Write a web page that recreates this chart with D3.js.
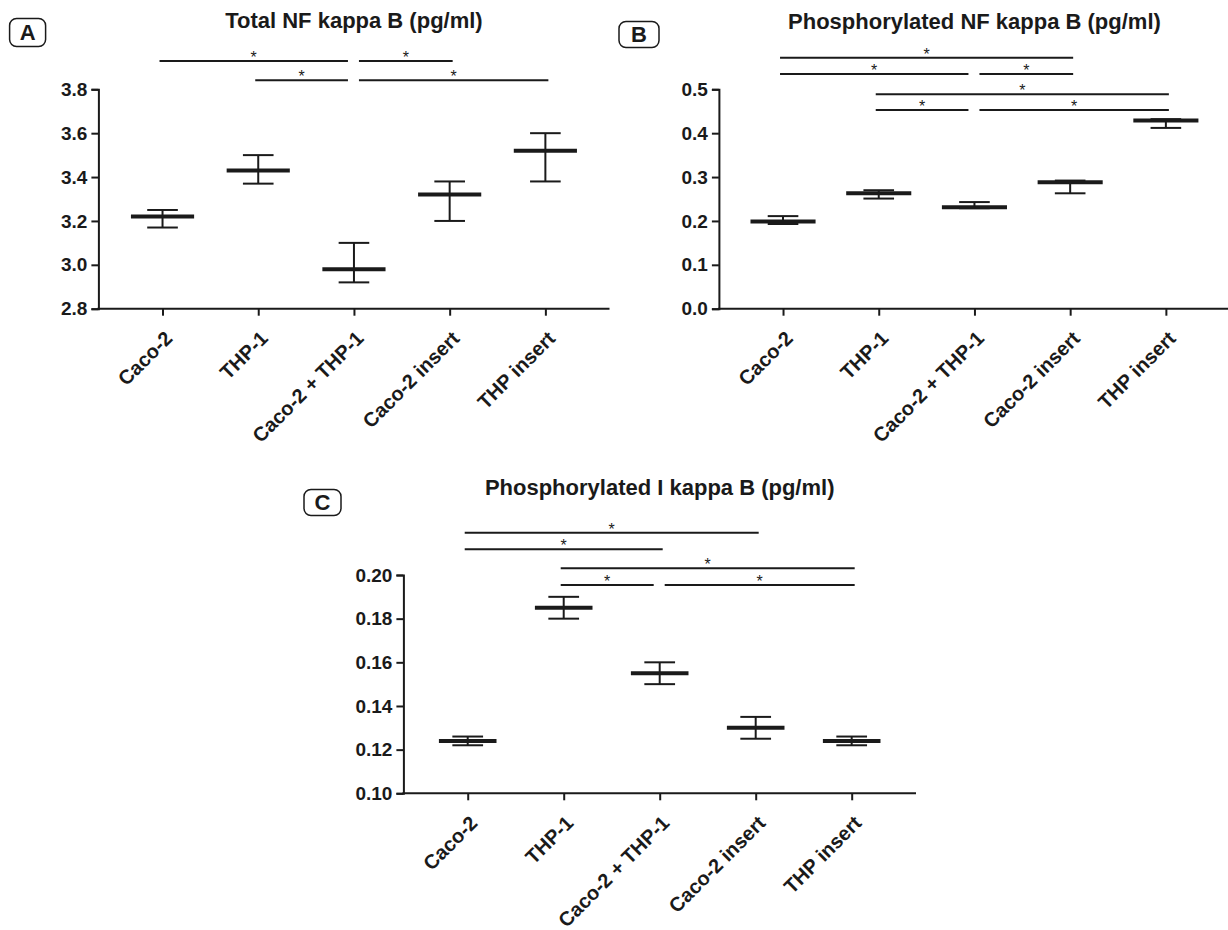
<!DOCTYPE html>
<html>
<head>
<meta charset="utf-8">
<script src="https://cdn.jsdelivr.net/npm/d3@7/dist/d3.min.js"></script>
<style>
  html, body { margin: 0; padding: 0; background: #fff; }
  svg { display: block; }
  text { font-family: "Liberation Sans", Arial, Helvetica, sans-serif; fill: #1a1a1a; }
</style>
</head>
<body>
<svg id="chart" width="1228" height="930"></svg>
<script>
// ---------------- DATA ----------------
const categories = ["Caco-2", "THP-1", "Caco-2 + THP-1", "Caco-2 insert", "THP insert"];

// Panel A: Total NF kappa B (pg/ml)
const totalNFMean = [3.22, 3.43, 2.98, 3.32, 3.52];
const totalNFLow  = [3.17, 3.37, 2.92, 3.20, 3.38];
const totalNFHigh = [3.25, 3.50, 3.10, 3.38, 3.60];
const totalNFTicks = [2.8, 3.0, 3.2, 3.4, 3.6, 3.8];
const totalNFTickLabels = ["2.8", "3.0", "3.2", "3.4", "3.6", "3.8"];
// significance bars: [from category index, to category index, level (data units)]
const totalNFSig = [[0, 2, 3.929], [2, 3, 3.929], [1, 2, 3.841], [2, 4, 3.841]];

// Panel B: Phosphorylated NF kappa B (pg/ml)
const phosNFMean = [0.199, 0.263, 0.231, 0.288, 0.429];
const phosNFLow  = [0.193, 0.251, 0.229, 0.263, 0.412];
const phosNFHigh = [0.211, 0.270, 0.243, 0.292, 0.432];
const phosNFTicks = [0.0, 0.1, 0.2, 0.3, 0.4, 0.5];
const phosNFTickLabels = ["0.0", "0.1", "0.2", "0.3", "0.4", "0.5"];
const phosNFSig = [[0, 3, 0.572], [0, 2, 0.535], [2, 3, 0.535], [1, 4, 0.489], [1, 2, 0.453], [2, 4, 0.453]];

// Panel C: Phosphorylated I kappa B (pg/ml)
const phosIkBMean = [0.124, 0.185, 0.155, 0.130, 0.124];
const phosIkBLow  = [0.122, 0.180, 0.150, 0.125, 0.122];
const phosIkBHigh = [0.126, 0.190, 0.160, 0.135, 0.126];
const phosIkBTicks = [0.10, 0.12, 0.14, 0.16, 0.18, 0.20];
const phosIkBTickLabels = ["0.10", "0.12", "0.14", "0.16", "0.18", "0.20"];
const phosIkBSig = [[0, 3, 0.2194], [0, 2, 0.2118], [1, 4, 0.2031], [1, 2, 0.1954], [2, 4, 0.1954]];

const panelTitles = ["Total NF kappa B (pg/ml)", "Phosphorylated NF kappa B (pg/ml)", "Phosphorylated I kappa B (pg/ml)"];
const panelLetters = ["A", "B", "C"];

// ---------------- LAYOUT ----------------
const INK = "#1a1a1a";
const layouts = [
  { x0: 98.4, xEnd: 609.5, yTop: 89.3, yBot: 308.7, titleY: 28, box: { x: 9.6, y: 18.5, w: 36, h: 28 }, meanHalf: 0.33 },
  { x0: 718.9, xEnd: 1230, yTop: 89.3, yBot: 308.7, titleY: 29, box: { x: 619, y: 21.5, w: 40, h: 26 }, meanHalf: 0.34 },
  { x0: 403.4, xEnd: 916, yTop: 575, yBot: 793.3, titleY: 495, box: { x: 304, y: 489.5, w: 37, h: 26 }, meanHalf: 0.30 }
];

const panels = [
  { mean: totalNFMean, low: totalNFLow, high: totalNFHigh, ticks: totalNFTicks, tickLabels: totalNFTickLabels, sig: totalNFSig },
  { mean: phosNFMean, low: phosNFLow, high: phosNFHigh, ticks: phosNFTicks, tickLabels: phosNFTickLabels, sig: phosNFSig },
  { mean: phosIkBMean, low: phosIkBLow, high: phosIkBHigh, ticks: phosIkBTicks, tickLabels: phosIkBTickLabels, sig: phosIkBSig }
];

const svg = d3.select("#chart");

panels.forEach((p, pi) => {
  const L = layouts[pi];
  const g = svg.append("g");

  const x = d3.scalePoint().domain(categories).range([L.x0, L.xEnd]).padding(0.67);
  const y = d3.scaleLinear()
    .domain([p.ticks[0], p.ticks[p.ticks.length - 1]])
    .range([L.yBot, L.yTop]);
  const step = x.step();

  // Y axis
  const yAxis = d3.axisLeft(y)
    .tickValues(p.ticks)
    .tickFormat((d, i) => p.tickLabels[i])
    .tickSize(7).tickSizeOuter(7).tickPadding(4);
  const gy = g.append("g").attr("transform", `translate(${L.x0},0)`).call(yAxis);
  gy.selectAll("path, line").attr("stroke", INK).attr("stroke-width", 2);
  gy.selectAll("text").attr("font-size", 19).attr("font-weight", "bold").attr("fill", INK)
    .attr("font-family", "'Liberation Sans', Arial, sans-serif");

  // X axis
  const xAxis = d3.axisBottom(x).tickSize(7).tickSizeOuter(0).tickFormat("");
  const gx = g.append("g").attr("transform", `translate(0,${L.yBot})`).call(xAxis);
  gx.select("path.domain").attr("d", `M${L.x0 - 1},0H${L.xEnd}`);
  gx.selectAll("path, line").attr("stroke", INK).attr("stroke-width", 2);

  // X labels (rotated)
  g.selectAll("text.xlab").data(categories).join("text")
    .attr("class", "xlab")
    .attr("transform", d => `translate(${x(d) + 11},${L.yBot + 31}) rotate(-45)`)
    .attr("text-anchor", "end")
    .attr("font-size", 20).attr("font-weight", "bold")
    .text(d => d);

  // Error bars
  const capHalf = 0.16 * step;
  const meanHalf = L.meanHalf * step;
  const rows = categories.map((c, i) => ({ c, m: p.mean[i], lo: p.low[i], hi: p.high[i] }));
  const eg = g.append("g").attr("stroke", INK).attr("fill", "none");
  eg.selectAll("line.v").data(rows).join("line").attr("class", "v")
    .attr("x1", d => x(d.c)).attr("x2", d => x(d.c))
    .attr("y1", d => y(d.lo)).attr("y2", d => y(d.hi)).attr("stroke-width", 2);
  eg.selectAll("line.capHi").data(rows).join("line").attr("class", "capHi")
    .attr("x1", d => x(d.c) - capHalf).attr("x2", d => x(d.c) + capHalf)
    .attr("y1", d => y(d.hi)).attr("y2", d => y(d.hi)).attr("stroke-width", 2);
  eg.selectAll("line.capLo").data(rows).join("line").attr("class", "capLo")
    .attr("x1", d => x(d.c) - capHalf).attr("x2", d => x(d.c) + capHalf)
    .attr("y1", d => y(d.lo)).attr("y2", d => y(d.lo)).attr("stroke-width", 2);
  eg.selectAll("line.mean").data(rows).join("line").attr("class", "mean")
    .attr("x1", d => x(d.c) - meanHalf).attr("x2", d => x(d.c) + meanHalf)
    .attr("y1", d => y(d.m)).attr("y2", d => y(d.m)).attr("stroke-width", 4);

  // Significance bars
  const sigRows = p.sig.map(([a, b, lvl]) => {
    const endShared = p.sig.some(([a2, , l2]) => l2 === lvl && a2 === b);
    const startShared = p.sig.some(([, b2, l2]) => l2 === lvl && b2 === a);
    const x1 = startShared ? x(categories[a]) + 5 : x(categories[a]) - 3;
    const x2 = endShared ? x(categories[b]) - 6 : x(categories[b]) + 3;
    return { x1, x2, yy: y(lvl) };
  });
  const sg = g.append("g");
  sg.selectAll("line.sig").data(sigRows).join("line").attr("class", "sig")
    .attr("x1", d => d.x1).attr("x2", d => d.x2)
    .attr("y1", d => d.yy).attr("y2", d => d.yy)
    .attr("stroke", INK).attr("stroke-width", 2);
  sg.selectAll("text.star").data(sigRows).join("text").attr("class", "star")
    .attr("x", d => (d.x1 + d.x2) / 2).attr("y", d => d.yy + 2)
    .attr("text-anchor", "middle").attr("font-size", 16).attr("fill", "#333")
    .text("*");

  // Title
  g.append("text")
    .attr("x", (L.x0 + L.xEnd) / 2).attr("y", L.titleY)
    .attr("text-anchor", "middle").attr("font-size", 22).attr("font-weight", "bold")
    .text(panelTitles[pi]);

  // Panel letter box
  g.append("rect")
    .attr("x", L.box.x).attr("y", L.box.y).attr("width", L.box.w).attr("height", L.box.h)
    .attr("rx", 7).attr("fill", "none").attr("stroke", INK).attr("stroke-width", 1.5);
  g.append("text")
    .attr("x", L.box.x + L.box.w / 2).attr("y", L.box.y + L.box.h / 2)
    .attr("dy", "0.36em").attr("text-anchor", "middle")
    .attr("font-size", 22).attr("font-weight", "bold")
    .text(panelLetters[pi]);
});
</script>
</body>
</html>
